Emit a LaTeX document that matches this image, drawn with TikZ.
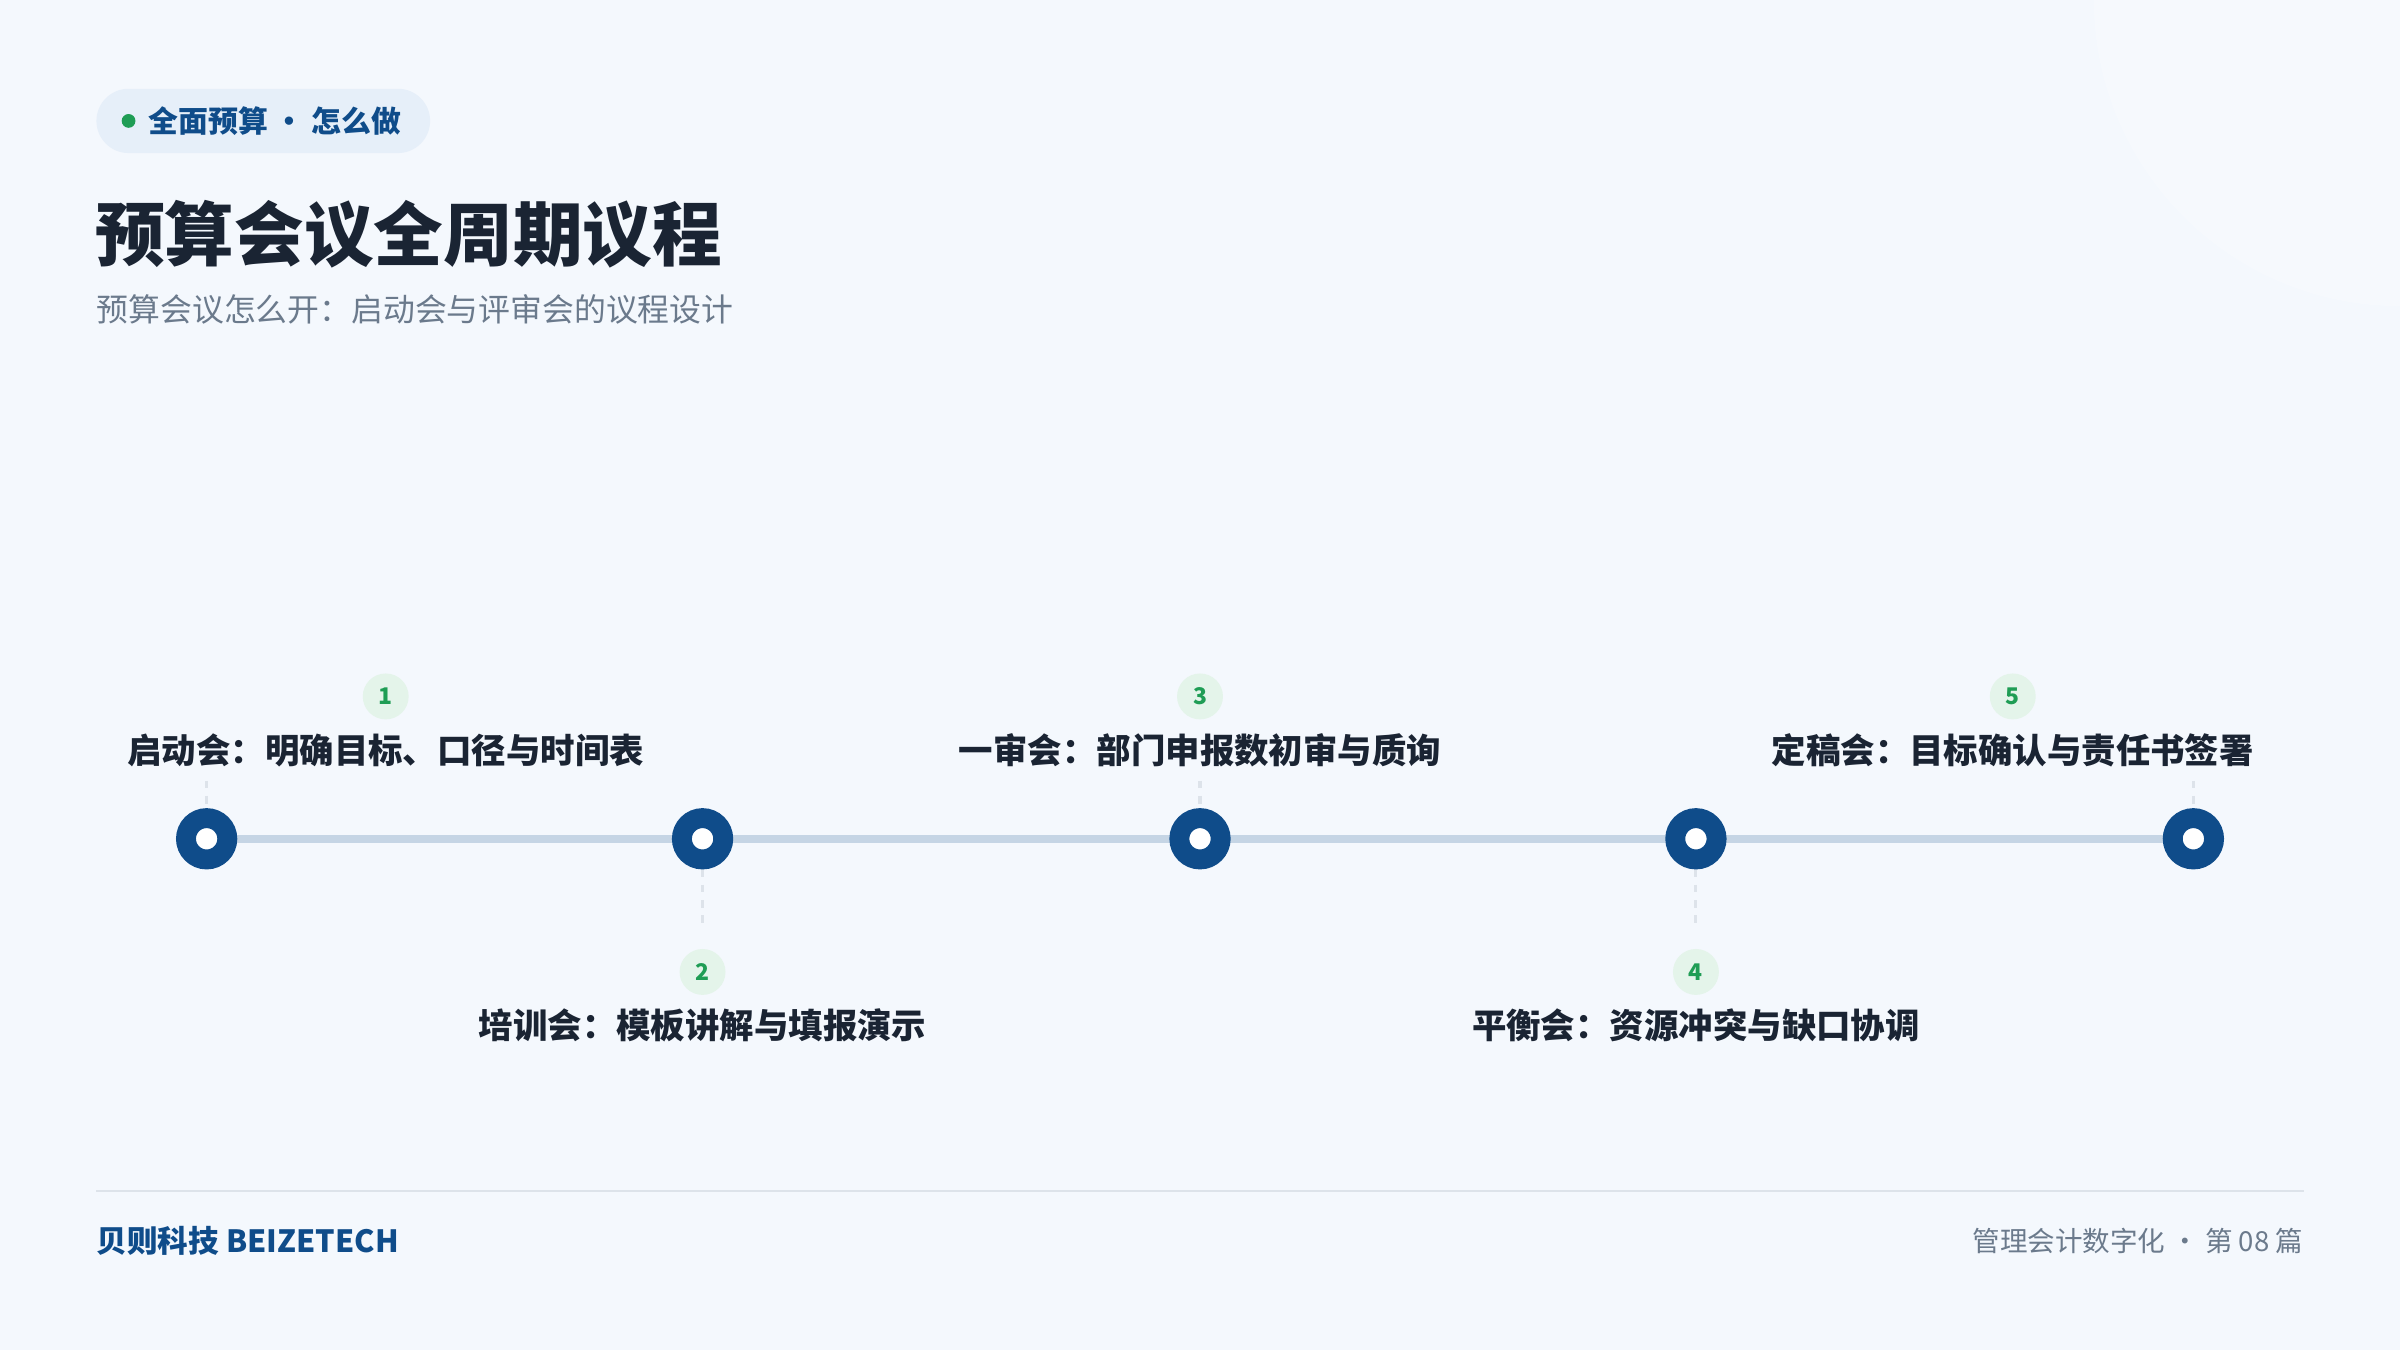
\documentclass[tikz,border=0pt]{standalone}
\usepackage{fontspec}
\setmainfont{Noto Sans CJK SC}
\definecolor{bg}{HTML}{F4F8FD}
\definecolor{navy}{HTML}{0F4C8A}
\definecolor{ink}{HTML}{1A2433}
\definecolor{gray}{HTML}{6B7A8C}
\definecolor{track}{HTML}{C5D5E5}
\definecolor{grn}{HTML}{1F9D55}
\definecolor{grnbg}{HTML}{E4F4EA}
\definecolor{pill}{HTML}{E6EFF9}
\definecolor{rule}{HTML}{DDE3EA}
\begin{document}
\begin{tikzpicture}[x=1pt,y=-1pt,
  lbl/.style={font=\fontsize{22.5}{24}\selectfont\bfseries, text=ink, inner sep=0},
  num/.style={circle, fill=grnbg, minimum size=30pt, inner sep=0, text=grn, font=\fontsize{15}{16}\selectfont\bfseries},
  dot/.style={circle, draw=navy, line width=13pt, fill=white, minimum size=27pt, inner sep=0},
  stem/.style={rule, line width=2pt, dash pattern=on 5pt off 5pt}]
\useasboundingbox (0,0) rectangle (1568,882);
\clip (0,0) rectangle (1568,882);
\fill[bg] (0,0) rectangle (1568,882);
\fill[white,opacity=0.25] (1568,0) circle[radius=200pt];
% badge
\fill[pill, rounded corners=21pt] (63,58) rectangle (281,100);
\node[circle, fill=grn, inner sep=0, minimum size=9pt] (bd) at (84,79) {};
\node[anchor=west, inner sep=0, text=navy, font=\fontsize{19.5}{21}\selectfont\bfseries] (bt) at (97,79) {全面预算 · 怎么做};
\node[anchor=west, inner sep=0, text=ink, font=\fontsize{45.5}{48}\selectfont\bfseries] (title) at (62,153) {预算会议全周期议程};
\node[anchor=west, inner sep=0, text=gray, font=\fontsize{20.8}{22}\selectfont] (sub) at (63,202) {预算会议怎么开：启动会与评审会的议程设计};
% track
\coordinate (t0) at (135,548);
\coordinate (t1) at (1433,548);
\draw[track, line width=5pt] (t0) -- (t1);
% stems
\coordinate (s1) at (135,510); \coordinate (s3) at (784,510); \coordinate (s5) at (1433,510);
\coordinate (s2) at (459,606); \coordinate (s4) at (1108,606);
\draw[stem] (s1) -- (t0);
\draw[stem] (s3) -- (784,548);
\draw[stem] (s5) -- (t1);
\draw[stem] (459,548) -- (s2);
\draw[stem] (1108,548) -- (s4);
\node[dot] (n1) at (135,548) {};
\node[dot] (n2) at (459,548) {};
\node[dot] (n3) at (784,548) {};
\node[dot] (n4) at (1108,548) {};
\node[dot] (n5) at (1433,548) {};
% labels
\node[num] (c1) at (252,455) {1};
\node[lbl] (l1) at (252,490) {启动会：明确目标、口径与时间表};
\node[num] (c2) at (459,635) {2};
\node[lbl] (l2) at (459,670) {培训会：模板讲解与填报演示};
\node[num] (c3) at (784,455) {3};
\node[lbl] (l3) at (784,490) {一审会：部门申报数初审与质询};
\node[num] (c4) at (1108,635) {4};
\node[lbl] (l4) at (1108,670) {平衡会：资源冲突与缺口协调};
\node[num] (c5) at (1315,455) {5};
\node[lbl] (l5) at (1315,490) {定稿会：目标确认与责任书签署};
% footer
\coordinate (f0) at (63,778); \coordinate (f1) at (1505,778);
\draw[rule, line width=1.5pt] (f0) -- (f1);
\node[anchor=west, inner sep=0, text=navy, font=\fontsize{20}{22}\selectfont\bfseries] (fl) at (63,811) {贝则科技 BEIZETECH};
\node[anchor=east, inner sep=0, text=gray, font=\fontsize{18}{20}\selectfont] (fr) at (1505,811) {管理会计数字化 · 第 08 篇};
\end{tikzpicture}
\end{document}
